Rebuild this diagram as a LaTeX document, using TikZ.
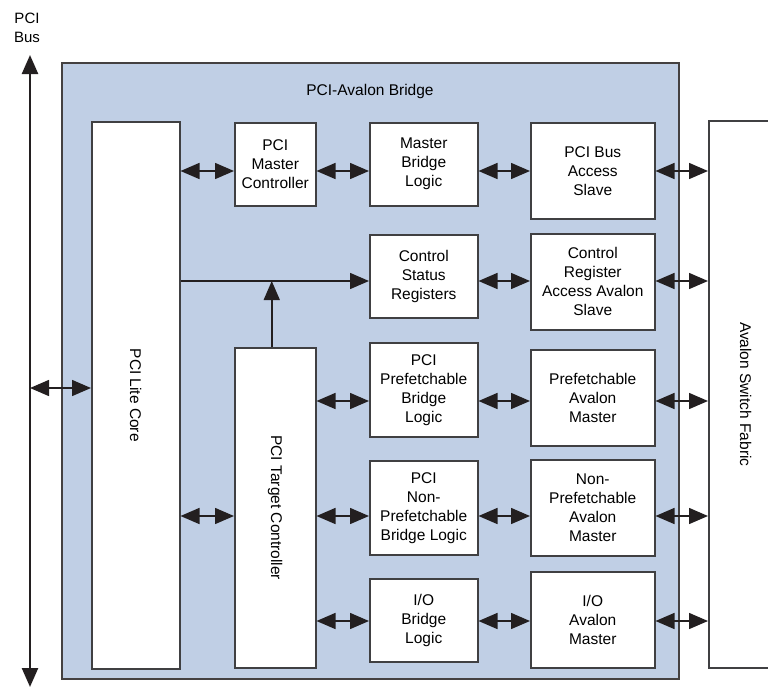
\documentclass[tikz,border=0pt]{standalone}
\usepackage{fontspec}
\setsansfont{Liberation Sans}
\usepackage{tikz}
\usetikzlibrary{arrows.meta,positioning,calc}
\definecolor{bridgefill}{RGB}{192,207,229}
\definecolor{edge}{RGB}{64,64,66}
\definecolor{ink}{RGB}{35,31,32}
\tikzset{
  blk/.style={draw=edge, line width=1.5pt, fill=white, align=center, anchor=north west,
    inner sep=0pt, font=\sffamily\fontsize{15.5}{19}\selectfont},
  bridge/.style={draw=ink!85, line width=2pt, fill=bridgefill, anchor=north west, inner sep=0pt},
  txt/.style={font=\sffamily\fontsize{15.5}{19}\selectfont, align=center, inner sep=0pt},
  bi/.style={draw=ink, line width=1.5pt, {Triangle[length=19pt,width=16pt]}-{Triangle[length=19pt,width=16pt]}},
  uni/.style={draw=ink, line width=1.5pt, -{Triangle[length=19pt,width=16pt]}},
  busline/.style={draw=ink, line width=2.5pt, {Triangle[length=19pt,width=16pt]}-{Triangle[length=19pt,width=16pt]}}
}
\begin{document}
\begin{tikzpicture}[x=1pt, y=-1pt, font=\sffamily]
  \useasboundingbox (0,0) rectangle (768,688);
  % bridge frame
  \node[bridge, minimum width=617pt, minimum height=616pt] (br) at (61,62) {};
  \node[txt] (brt) at (370,91) {PCI-Avalon Bridge};
  % left column
  \node[blk, minimum width=88pt, minimum height=547pt] (core) at (91,121) {};
  \node[txt, rotate=-90] (coret) at (core.center) {PCI Lite Core};
  \node[blk, minimum width=81pt, minimum height=83pt] (mc) at (234,122) {PCI\\Master\\Controller};
  \node[blk, minimum width=81pt, minimum height=320pt] (tc) at (234,347) {};
  \node[txt, rotate=-90] (tct) at (tc.center) {PCI Target Controller};
  % bridge logic column
  \node[blk, minimum width=108pt, minimum height=83pt] (mbl) at (369,122) {Master\\Bridge\\Logic};
  \node[blk, minimum width=108pt, minimum height=83pt] (csr) at (369,234) {Control\\Status\\Registers};
  \node[blk, minimum width=108pt, minimum height=94pt] (pbl) at (369,342) {PCI\\Prefetchable\\Bridge\\Logic};
  \node[blk, minimum width=108pt, minimum height=94pt] (npbl) at (369,460) {PCI\\Non-\\Prefetchable\\Bridge Logic};
  \node[blk, minimum width=108pt, minimum height=83pt] (iobl) at (369,578) {I/O\\Bridge\\Logic};
  % avalon side column
  \node[blk, minimum width=124pt, minimum height=96pt] (slv) at (530,122) {PCI Bus\\Access\\Slave};
  \node[blk, minimum width=124pt, minimum height=96pt] (cra) at (530,233) {Control\\Register\\Access Avalon\\Slave};
  \node[blk, minimum width=124pt, minimum height=96pt] (pam) at (530,349) {Prefetchable\\Avalon\\Master};
  \node[blk, minimum width=124pt, minimum height=96pt] (npam) at (530,459) {Non-\\Prefetchable\\Avalon\\Master};
  \node[blk, minimum width=124pt, minimum height=96pt] (ioam) at (530,571) {I/O\\Avalon\\Master};
  % switch fabric
  \node[blk, minimum width=74pt, minimum height=547pt] (fab) at (708,120) {};
  \node[txt, rotate=-90] (fabt) at (fab.center) {Avalon Switch Fabric};
  % pci bus
  \coordinate (bustop) at (30,55);
  \coordinate (busbot) at (30,687);
  \node[txt, font=\sffamily\fontsize{15}{19}\selectfont] (bust) at (27,28) {PCI\\Bus};
  \draw[busline] (busbot) -- (bustop);
  % row heights
  \coordinate (r1) at (0,171);
  \coordinate (r2) at (0,281);
  \coordinate (r3) at (0,401);
  \coordinate (r4) at (0,516);
  \coordinate (r5) at (0,621);
  \coordinate (rb) at (0,388);
  % connectors
  \draw[bi] (bustop |- rb) -- (core.west |- rb);
  \draw[bi] (core.east |- r1) -- (mc.west |- r1);
  \draw[bi] (mc.east |- r1) -- (mbl.west |- r1);
  \draw[bi] (mbl.east |- r1) -- (slv.west |- r1);
  \draw[bi] (slv.east |- r1) -- (fab.west |- r1);
  \draw[uni] (core.east |- r2) -- (csr.west |- r2);
  \draw[uni] ([xshift=-3.5pt]tc.north) -- ([xshift=-3.5pt]tc.north |- r2);
  \draw[bi] (csr.east |- r2) -- (cra.west |- r2);
  \draw[bi] (cra.east |- r2) -- (fab.west |- r2);
  \draw[bi] (tc.east |- r3) -- (pbl.west |- r3);
  \draw[bi] (pbl.east |- r3) -- (pam.west |- r3);
  \draw[bi] (pam.east |- r3) -- (fab.west |- r3);
  \draw[bi] (core.east |- r4) -- (tc.west |- r4);
  \draw[bi] (tc.east |- r4) -- (npbl.west |- r4);
  \draw[bi] (npbl.east |- r4) -- (npam.west |- r4);
  \draw[bi] (npam.east |- r4) -- (fab.west |- r4);
  \draw[bi] (tc.east |- r5) -- (iobl.west |- r5);
  \draw[bi] (iobl.east |- r5) -- (ioam.west |- r5);
  \draw[bi] (ioam.east |- r5) -- (fab.west |- r5);
\end{tikzpicture}
\end{document}
